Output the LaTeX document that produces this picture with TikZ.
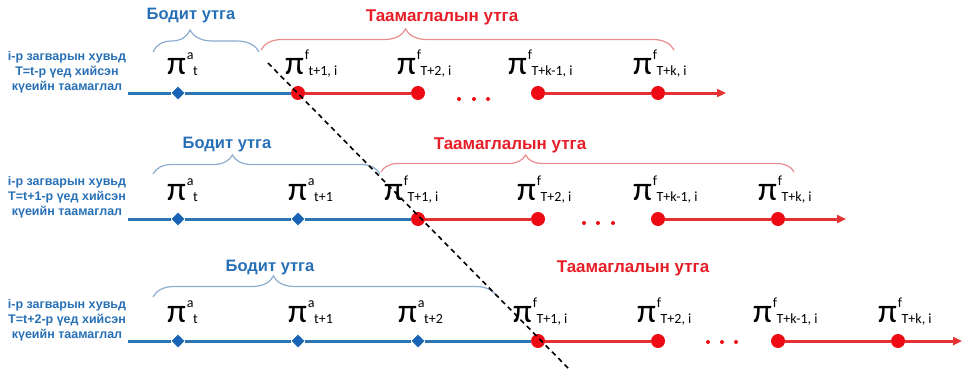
\documentclass[tikz,border=0pt]{standalone}
\usepackage{fontspec}
\setmainfont{Liberation Sans}
\newfontfamily\pifont{Carlito}
\usetikzlibrary{shapes.geometric,decorations.pathreplacing,arrows.meta}
\definecolor{blueL}{RGB}{46,117,182}
\definecolor{blueD}{RGB}{25,100,180}
\definecolor{blueT}{RGB}{40,112,182}
\definecolor{redT}{RGB}{230,30,40}
\definecolor{redL}{RGB}{228,50,50}
\definecolor{redD}{RGB}{238,10,20}
\definecolor{braceB}{RGB}{140,172,208}
\definecolor{braceR}{RGB}{232,140,140}
\newcommand\plab[2]{{\pifont\fontsize{34}{34}\selectfont π}\kern0.8pt{\pifont\fontsize{14}{14}\selectfont\raisebox{15pt}{#1}\kern-0.4pt\raisebox{-1.5pt}{#2}}}
\tikzset{
  dia/.style={diamond, fill=blueD, inner sep=0pt, minimum size=13pt},
  rdot/.style={circle, fill=redD, inner sep=0pt, minimum size=14pt},
  bline/.style={draw=blueL, line width=3pt},
  rline/.style={draw=redL, line width=3pt},
  rarrow/.style={rline, -{Triangle[length=9pt,width=8pt]}},
  dotsym/.style={circle, fill=redD, inner sep=0pt, minimum size=4pt},
  bbrace/.style={draw=braceB, line width=1.2pt, decorate, decoration={brace, amplitude=#1, aspect=0.35}},
  rbrace/.style={draw=braceR, line width=1.2pt, decorate, decoration={brace, amplitude=#1, aspect=0.35}},
  headB/.style={text=blueT, font=\bfseries\fontsize{16.5}{16.5}\selectfont, inner sep=0pt},
  headR/.style={text=redT, font=\bfseries\fontsize{17}{17}\selectfont, inner sep=0pt},
  side/.style={text=blueT, font=\bfseries\fontsize{12.5}{14.8}\selectfont, align=center, inner sep=0pt},
  lab/.style={anchor=base west, inner sep=0pt},
  cut/.style={draw=black, line width=1.6pt, dash pattern=on 5pt off 4pt}
}
\begin{document}
\begin{tikzpicture}[x=1pt,y=-1pt]
\useasboundingbox (0,0) rectangle (964,372);

% ---------- Row 1 ----------
\node[side] (s1) at (67,72) {i-р загварын хувьд\\T=t-р үед хийсэн\\күеийн таамаглал};
\coordinate (a1) at (128,93);
\coordinate (e1) at (726,93);
\node[dia] (d11) at (178,93) {};
\node[rdot] (r11) at (298,93) {};
\node[rdot] (r12) at (418,93) {};
\node[rdot] (r13) at (538,93) {};
\node[rdot] (r14) at (658,93) {};
\draw[bline] (a1) -- (d11) -- (r11);
\draw[rline] (r11) -- (r12);
\draw[rline] (r13) -- (r14);
\draw[rarrow] (r14) -- (e1);
\node[dotsym] (p11) at (459,99) {};
\node[dotsym] (p12) at (474,99) {};
\node[dotsym] (p13) at (488,99) {};
\node[lab] (l11) at (167,74) {\plab{a}{t}};
\node[lab] (l12) at (285,74) {\plab{f}{t+1, i}};
\node[lab] (l13) at (397,74) {\plab{f}{T+2, i}};
\node[lab] (l14) at (508,74) {\plab{f}{T+k-1, i}};
\node[lab] (l15) at (633,74) {\plab{f}{T+k, i}};
\coordinate (b1a) at (153,52); \coordinate (b1b) at (259,52);
\draw[bbrace=22pt] (b1a) -- (b1b);
\coordinate (c1a) at (261,50); \coordinate (c1b) at (674,50);
\draw[rbrace=21pt] (c1a) -- (c1b);
\node[headB] (h11) at (191,16) {Бодит утга};
\node[headR] (h12) at (442,17) {Таамаглалын утга};

% ---------- Row 2 ----------
\node[side] (s2) at (67,197) {i-р загварын хувьд\\T=t+1-р үед хийсэн\\күеийн таамаглал};
\coordinate (a2) at (128,219);
\coordinate (e2) at (846,219);
\node[dia] (d21) at (178,219) {};
\node[dia] (d22) at (298,219) {};
\node[rdot] (r21) at (418,219) {};
\node[rdot] (r22) at (538,219) {};
\node[rdot] (r23) at (658,219) {};
\node[rdot] (r24) at (778,219) {};
\draw[bline] (a2) -- (d21) -- (d22) -- (r21);
\draw[rline] (r21) -- (r22);
\draw[rline] (r23) -- (r24);
\draw[rarrow] (r24) -- (e2);
\node[dotsym] (p21) at (584,223) {};
\node[dotsym] (p22) at (598,223) {};
\node[dotsym] (p23) at (613,223) {};
\node[lab] (l21) at (167,200) {\plab{a}{t}};
\node[lab] (l22) at (288,200) {\plab{a}{t+1}};
\node[lab] (l23) at (384,200) {\plab{f}{T+1, i}};
\node[lab] (l24) at (517,200) {\plab{f}{T+2, i}};
\node[lab] (l25) at (633,200) {\plab{f}{T+k-1, i}};
\node[lab] (l26) at (758,200) {\plab{f}{T+k, i}};
\coordinate (b2a) at (153,174); \coordinate (b2b) at (380,174);
\draw[bbrace=19pt] (b2a) -- (b2b);
\coordinate (c2a) at (381,172); \coordinate (c2b) at (794,172);
\draw[rbrace=17pt] (c2a) -- (c2b);
\node[headB] (h21) at (227,145) {Бодит утга};
\node[headR] (h22) at (510,145) {Таамаглалын утга};

% ---------- Row 3 ----------
\node[side] (s3) at (67,320) {i-р загварын хувьд\\T=t+2-р үед хийсэн\\күеийн таамаглал};
\coordinate (a3) at (128,341);
\coordinate (e3) at (962,341);
\node[dia] (d31) at (178,341) {};
\node[dia] (d32) at (298,341) {};
\node[dia] (d33) at (418,341) {};
\node[rdot] (r31) at (538,341) {};
\node[rdot] (r32) at (658,341) {};
\node[rdot] (r33) at (778,341) {};
\node[rdot] (r34) at (898,341) {};
\draw[bline] (a3) -- (d31) -- (d32) -- (d33) -- (r31);
\draw[rline] (r31) -- (r32);
\draw[rline] (r33) -- (r34);
\draw[rarrow] (r34) -- (e3);
\node[dotsym] (p31) at (708,342) {};
\node[dotsym] (p32) at (722,342) {};
\node[dotsym] (p33) at (736,342) {};
\node[lab] (l31) at (167,322) {\plab{a}{t}};
\node[lab] (l32) at (288,322) {\plab{a}{t+1}};
\node[lab] (l33) at (398,322) {\plab{a}{t+2}};
\node[lab] (l34) at (513,322) {\plab{f}{T+1, i}};
\node[lab] (l35) at (637,322) {\plab{f}{T+2, i}};
\node[lab] (l36) at (753,322) {\plab{f}{T+k-1, i}};
\node[lab] (l37) at (878,322) {\plab{f}{T+k, i}};
\coordinate (b3a) at (153,297); \coordinate (b3b) at (497,297);
\draw[bbrace=21pt] (b3a) -- (b3b);
\node[headB] (h31) at (270,268) {Бодит утга};
\node[headR] (h32) at (633,268) {Таамаглалын утга};

% ---------- cut line ----------
\coordinate (k1) at (268,63);
\coordinate (k2) at (568,368);
\draw[cut] (k1) -- (k2);
\end{tikzpicture}
\end{document}
